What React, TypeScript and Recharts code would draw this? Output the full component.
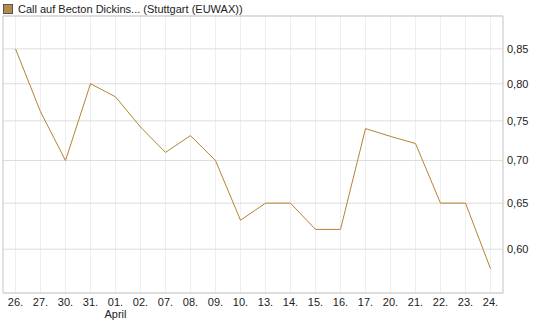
import { LineChart, Line, XAxis, YAxis, CartesianGrid } from "recharts"

const days = ["26.", "27.", "30.", "31.", "01.", "02.", "07.", "08.", "09.", "10.", "13.", "14.", "15.", "16.", "17.", "20.", "21.", "22.", "23.", "24."]
const months = ["", "", "", "", "April", "", "", "", "", "", "", "", "", "", "", "", "", "", "", ""]
const prices = [0.85, 0.762, 0.70, 0.80, 0.782, 0.742, 0.71, 0.731, 0.70, 0.631, 0.65, 0.65, 0.621, 0.621, 0.74, 0.73, 0.721, 0.65, 0.65, 0.58]
const yTicks = [0.6, 0.65, 0.7, 0.75, 0.8, 0.85]

const data = days.map((d, i) => ({ day: d, month: months[i], price: prices[i] }))

const FONT = "Arial, 'Liberation Sans', sans-serif"

function DayTick({ x, y, payload, index }: any) {
  const month = months[index]
  return (
    <g>
      <text x={x} y={y + 6.5} textAnchor="middle" fontSize={11} fontFamily={FONT} fill="#222">
        {payload.value}
      </text>
      {month && (
        <text x={x} y={y + 19} textAnchor="middle" fontSize={11} fontFamily={FONT} fill="#222">
          {month}
        </text>
      )}
    </g>
  )
}

export default function App() {
  return (
    <div style={{ position: "absolute", left: 0, top: 0, width: 545, height: 327, background: "#fff" }}>
      <div style={{ position: "absolute", left: 3, top: 3, display: "flex", alignItems: "center", fontFamily: FONT, fontSize: 11, color: "#222" }}>
        <span style={{ display: "inline-block", width: 8, height: 8, background: "#b58a4a", border: "1px solid #555", marginRight: 5 }} />
        <span>Call auf Becton Dickins... (Stuttgart (EUWAX))</span>
      </div>
      <LineChart width={545} height={327} data={data} margin={{ top: 16, right: 0, left: 3, bottom: 0 }}>
        <CartesianGrid vertical={true} horizontal={false} stroke="#eeeeee" />
        <CartesianGrid vertical={false} horizontal={true} stroke="#dddddd" />
        <CartesianGrid
          stroke="#cccccc"
          horizontalCoordinatesGenerator={({ offset }: any) => [offset.top, offset.top + offset.height]}
          verticalCoordinatesGenerator={({ offset }: any) => [offset.left, offset.left + offset.width]}
        />
        <XAxis
          dataKey="day"
          height={34}
          padding={{ left: 12.5, right: 12.5 }}
          axisLine={false}
          tickLine={false}
          interval={0}
          tick={<DayTick />}
          tickMargin={0}
        />
        <YAxis
          orientation="right"
          width={42}
          scale="log"
          type="number"
          domain={[0.556, 0.9]}
          allowDataOverflow
          ticks={yTicks}
          axisLine={false}
          tickLine={false}
          tickSize={0}
          tickMargin={4}
          tickFormatter={(v: number) => v.toFixed(2).replace(".", ",")}
          tick={{ fontSize: 11, fontFamily: FONT, fill: "#222", textAnchor: "start" }}
        />
        <Line
          type="linear"
          dataKey="price"
          stroke="#b5832f"
          strokeWidth={1}
          dot={false}
          isAnimationActive={false}
        />
      </LineChart>
    </div>
  )
}
